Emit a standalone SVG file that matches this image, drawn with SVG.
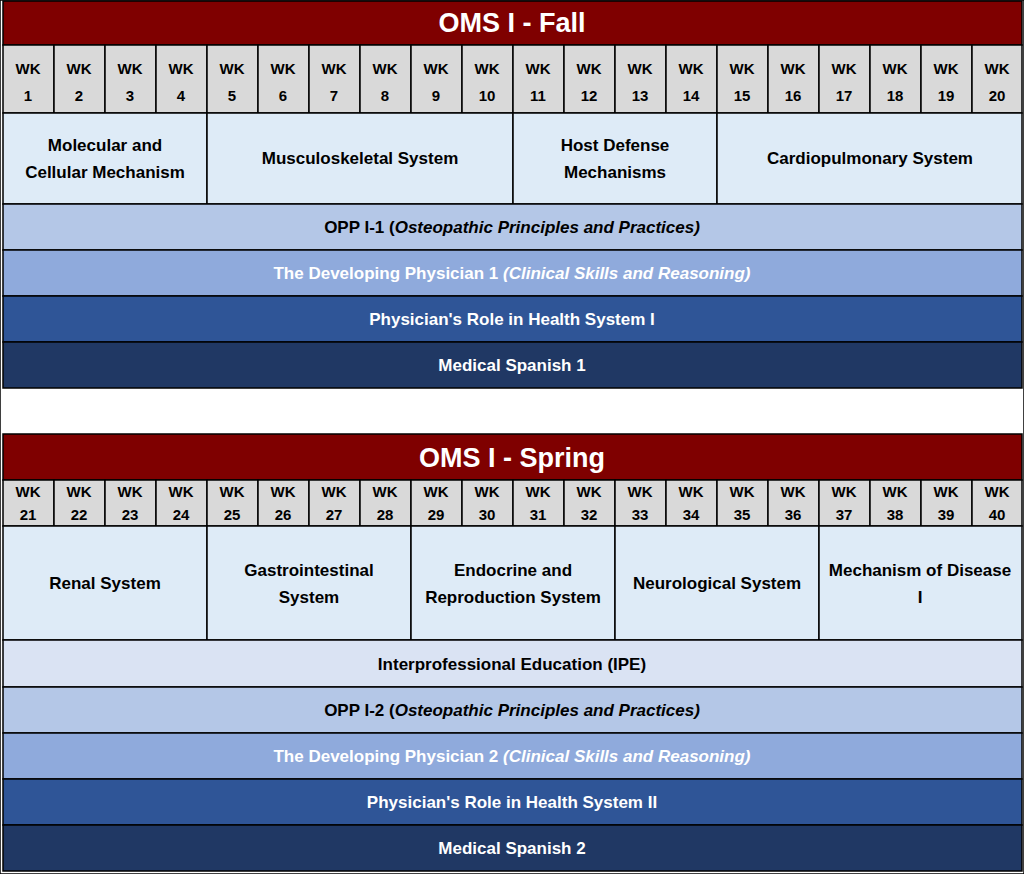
<svg xmlns="http://www.w3.org/2000/svg" width="1024" height="874" viewBox="0 0 1024 874">
<style>
rect{stroke:#000;stroke-width:1.5}
.t{fill:#7f0000}.w{fill:#d9d9d9}.m{fill:#deebf7}.ipe{fill:#dae3f3}.o{fill:#b4c7e7}.d{fill:#8faadc}.r{fill:#2f5597}.s{fill:#203864}
text{font-family:"Liberation Sans",Arial,sans-serif;font-weight:bold;text-anchor:middle;fill:#000}
.tt{fill:#fff;font-size:27px}.wt{font-size:15px}.mt{font-size:17px}.wh{fill:#fff}
</style>
<rect width="1024" height="874" fill="#fff" stroke="none"/>
<g id="fall">
<rect class="t" x="3" y="1" width="1019" height="44"/><text class="tt" x="512" y="32">OMS I - Fall</text>
<g id="fall-weeks">
<rect class="w" x="3" y="45" width="51" height="68"/><rect class="w" x="54" y="45" width="51" height="68"/><rect class="w" x="105" y="45" width="51" height="68"/><rect class="w" x="156" y="45" width="51" height="68"/><rect class="w" x="207" y="45" width="51" height="68"/><rect class="w" x="258" y="45" width="51" height="68"/><rect class="w" x="309" y="45" width="51" height="68"/><rect class="w" x="360" y="45" width="51" height="68"/><rect class="w" x="411" y="45" width="51" height="68"/><rect class="w" x="462" y="45" width="51" height="68"/><rect class="w" x="513" y="45" width="51" height="68"/><rect class="w" x="564" y="45" width="51" height="68"/><rect class="w" x="615" y="45" width="51" height="68"/><rect class="w" x="666" y="45" width="51" height="68"/><rect class="w" x="717" y="45" width="51" height="68"/><rect class="w" x="768" y="45" width="51" height="68"/><rect class="w" x="819" y="45" width="51" height="68"/><rect class="w" x="870" y="45" width="51" height="68"/><rect class="w" x="921" y="45" width="51" height="68"/><rect class="w" x="972" y="45" width="50" height="68"/>
<text class="wt" x="28" y="74">WK</text><text class="wt" x="28" y="101">1</text>
<text class="wt" x="79" y="74">WK</text><text class="wt" x="79" y="101">2</text>
<text class="wt" x="130" y="74">WK</text><text class="wt" x="130" y="101">3</text>
<text class="wt" x="181" y="74">WK</text><text class="wt" x="181" y="101">4</text>
<text class="wt" x="232" y="74">WK</text><text class="wt" x="232" y="101">5</text>
<text class="wt" x="283" y="74">WK</text><text class="wt" x="283" y="101">6</text>
<text class="wt" x="334" y="74">WK</text><text class="wt" x="334" y="101">7</text>
<text class="wt" x="385" y="74">WK</text><text class="wt" x="385" y="101">8</text>
<text class="wt" x="436" y="74">WK</text><text class="wt" x="436" y="101">9</text>
<text class="wt" x="487" y="74">WK</text><text class="wt" x="487" y="101">10</text>
<text class="wt" x="538" y="74">WK</text><text class="wt" x="538" y="101">11</text>
<text class="wt" x="589" y="74">WK</text><text class="wt" x="589" y="101">12</text>
<text class="wt" x="640" y="74">WK</text><text class="wt" x="640" y="101">13</text>
<text class="wt" x="691" y="74">WK</text><text class="wt" x="691" y="101">14</text>
<text class="wt" x="742" y="74">WK</text><text class="wt" x="742" y="101">15</text>
<text class="wt" x="793" y="74">WK</text><text class="wt" x="793" y="101">16</text>
<text class="wt" x="844" y="74">WK</text><text class="wt" x="844" y="101">17</text>
<text class="wt" x="895" y="74">WK</text><text class="wt" x="895" y="101">18</text>
<text class="wt" x="946" y="74">WK</text><text class="wt" x="946" y="101">19</text>
<text class="wt" x="997" y="74">WK</text><text class="wt" x="997" y="101">20</text>
</g>
<g id="fall-mol"><rect class="m" x="3" y="113" width="204" height="91"/><text class="mt" x="105" y="151">Molecular and</text><text class="mt" x="105" y="178">Cellular Mechanism</text></g>
<g id="fall-msk"><rect class="m" x="207" y="113" width="306" height="91"/><text class="mt" x="360" y="164">Musculoskeletal System</text></g>
<g id="fall-host"><rect class="m" x="513" y="113" width="204" height="91"/><text class="mt" x="615" y="151">Host Defense</text><text class="mt" x="615" y="178">Mechanisms</text></g>
<g id="fall-cardio"><rect class="m" x="717" y="113" width="305" height="91"/><text class="mt" x="870" y="164">Cardiopulmonary System</text></g>
<g id="fall-opp"><rect class="o" x="3" y="204" width="1019" height="46"/><text class="mt" x="512" y="233">OPP I-1 (<tspan font-style="italic">Osteopathic Principles and Practices)</tspan></text></g>
<g id="fall-dev"><rect class="d" x="3" y="250" width="1019" height="46"/><text class="mt wh" x="512" y="279">The Developing Physician 1 <tspan font-style="italic">(Clinical Skills and Reasoning)</tspan></text></g>
<g id="fall-role"><rect class="r" x="3" y="296" width="1019" height="46"/><text class="mt wh" x="512" y="325">Physician's Role in Health System I</text></g>
<g id="fall-span"><rect class="s" x="3" y="342" width="1019" height="46"/><text class="mt wh" x="512" y="371">Medical Spanish 1</text></g>
</g>
<g id="spring">
<rect class="t" x="3" y="434" width="1019" height="46"/><text class="tt" x="512" y="467">OMS I  - Spring</text>
<g id="spring-weeks">
<rect class="w" x="3" y="480" width="51" height="46"/><rect class="w" x="54" y="480" width="51" height="46"/><rect class="w" x="105" y="480" width="51" height="46"/><rect class="w" x="156" y="480" width="51" height="46"/><rect class="w" x="207" y="480" width="51" height="46"/><rect class="w" x="258" y="480" width="51" height="46"/><rect class="w" x="309" y="480" width="51" height="46"/><rect class="w" x="360" y="480" width="51" height="46"/><rect class="w" x="411" y="480" width="51" height="46"/><rect class="w" x="462" y="480" width="51" height="46"/><rect class="w" x="513" y="480" width="51" height="46"/><rect class="w" x="564" y="480" width="51" height="46"/><rect class="w" x="615" y="480" width="51" height="46"/><rect class="w" x="666" y="480" width="51" height="46"/><rect class="w" x="717" y="480" width="51" height="46"/><rect class="w" x="768" y="480" width="51" height="46"/><rect class="w" x="819" y="480" width="51" height="46"/><rect class="w" x="870" y="480" width="51" height="46"/><rect class="w" x="921" y="480" width="51" height="46"/><rect class="w" x="972" y="480" width="50" height="46"/>
<text class="wt" x="28" y="497">WK</text><text class="wt" x="28" y="520">21</text>
<text class="wt" x="79" y="497">WK</text><text class="wt" x="79" y="520">22</text>
<text class="wt" x="130" y="497">WK</text><text class="wt" x="130" y="520">23</text>
<text class="wt" x="181" y="497">WK</text><text class="wt" x="181" y="520">24</text>
<text class="wt" x="232" y="497">WK</text><text class="wt" x="232" y="520">25</text>
<text class="wt" x="283" y="497">WK</text><text class="wt" x="283" y="520">26</text>
<text class="wt" x="334" y="497">WK</text><text class="wt" x="334" y="520">27</text>
<text class="wt" x="385" y="497">WK</text><text class="wt" x="385" y="520">28</text>
<text class="wt" x="436" y="497">WK</text><text class="wt" x="436" y="520">29</text>
<text class="wt" x="487" y="497">WK</text><text class="wt" x="487" y="520">30</text>
<text class="wt" x="538" y="497">WK</text><text class="wt" x="538" y="520">31</text>
<text class="wt" x="589" y="497">WK</text><text class="wt" x="589" y="520">32</text>
<text class="wt" x="640" y="497">WK</text><text class="wt" x="640" y="520">33</text>
<text class="wt" x="691" y="497">WK</text><text class="wt" x="691" y="520">34</text>
<text class="wt" x="742" y="497">WK</text><text class="wt" x="742" y="520">35</text>
<text class="wt" x="793" y="497">WK</text><text class="wt" x="793" y="520">36</text>
<text class="wt" x="844" y="497">WK</text><text class="wt" x="844" y="520">37</text>
<text class="wt" x="895" y="497">WK</text><text class="wt" x="895" y="520">38</text>
<text class="wt" x="946" y="497">WK</text><text class="wt" x="946" y="520">39</text>
<text class="wt" x="997" y="497">WK</text><text class="wt" x="997" y="520">40</text>
</g>
<g id="spr-renal"><rect class="m" x="3" y="526" width="204" height="114"/><text class="mt" x="105" y="589">Renal System</text></g>
<g id="spr-gi"><rect class="m" x="207" y="526" width="204" height="114"/><text class="mt" x="309" y="576">Gastrointestinal</text><text class="mt" x="309" y="603">System</text></g>
<g id="spr-endo"><rect class="m" x="411" y="526" width="204" height="114"/><text class="mt" x="513" y="576">Endocrine and</text><text class="mt" x="513" y="603">Reproduction System</text></g>
<g id="spr-neuro"><rect class="m" x="615" y="526" width="204" height="114"/><text class="mt" x="717" y="589">Neurological System</text></g>
<g id="spr-mech"><rect class="m" x="819" y="526" width="203" height="114"/><text class="mt" x="920" y="576">Mechanism of Disease</text><text class="mt" x="920" y="603">I</text></g>
<g id="spr-ipe"><rect class="ipe" x="3" y="640" width="1019" height="47"/><text class="mt" x="512" y="670">Interprofessional Education (IPE)</text></g>
<g id="spr-opp"><rect class="o" x="3" y="687" width="1019" height="46"/><text class="mt" x="512" y="716">OPP I-2 (<tspan font-style="italic">Osteopathic Principles and Practices)</tspan></text></g>
<g id="spr-dev"><rect class="d" x="3" y="733" width="1019" height="46"/><text class="mt wh" x="512" y="762">The Developing Physician 2 <tspan font-style="italic">(Clinical Skills and Reasoning)</tspan></text></g>
<g id="spr-role"><rect class="r" x="3" y="779" width="1019" height="46"/><text class="mt wh" x="512" y="808">Physician's Role in Health System II</text></g>
<g id="spr-span"><rect class="s" x="3" y="825" width="1019" height="46"/><text class="mt wh" x="512" y="854">Medical Spanish 2</text></g>
</g>
<g id="connectors"/>
</svg>
